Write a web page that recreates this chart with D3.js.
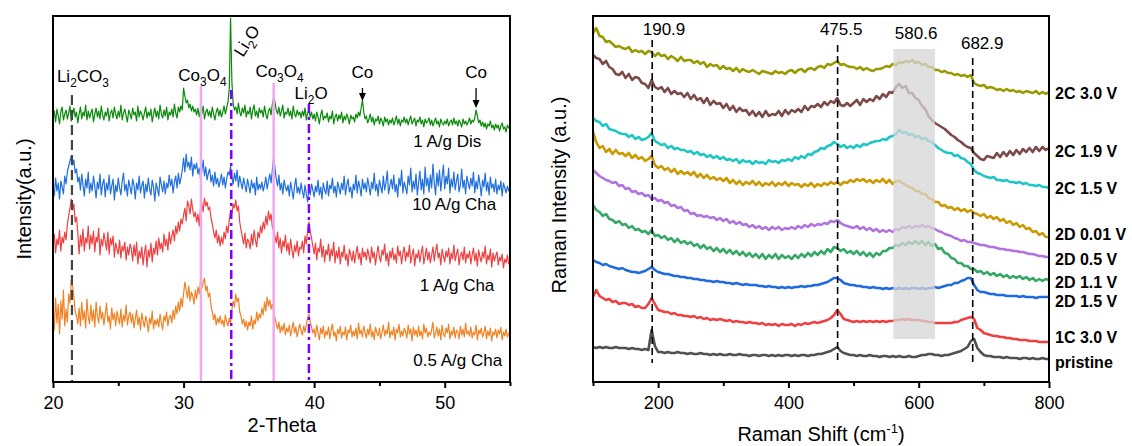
<!DOCTYPE html>
<html>
<head>
<meta charset="utf-8">
<script src="https://cdn.jsdelivr.net/npm/d3@7"></script>
<style>
body { margin: 0; background: #fff; }
text { font-family: Arial, "Liberation Sans", sans-serif; fill: #000; }
</style>
</head>
<body>
<svg id="chart" width="1132" height="446"></svg>
<script>
// ---------- XRD data (left), 2-theta grid 20..55 step 0.1 ----------
var thetaStart = 20, thetaStep = 0.1;
var xrdLabels = ["1 A/g Dis", "10 A/g Cha", "1 A/g Cha", "0.5 A/g Cha"];
var xrdDis1 = [
  264,271,260,273,266,258,270,275,262,268, 272,263,269,276,261,267,274,265,270,259,
  268,275,263,270,266,277,262,271,264,269, 273,260,268,274,265,271,263,276,267,262,
  270,266,274,261,269,272,264,275,268,263, 271,265,277,262,269,273,266,260,272,268,
  263,274,267,270,261,276,265,271,268,262, 269,275,264,270,266,273,260,268,274,265,
  271,263,277,268,264,272,266,275,262,270, 267,273,265,278,269,264,275,270,276,272,
  294,286,279,282,274,278,271,276,270,273, 267,274,265,272,268,276,263,270,273,266,
  271,264,275,268,262,270,274,266,272,265, 270,276,268,274,280,293,364,300,278,272,
  275,268,279,270,266,274,269,277,265,271, 268,275,263,272,277,266,271,264,274,269,
  272,265,276,268,263,271,274,267,278,285, 280,272,268,275,266,271,277,264,270,268,
  274,266,271,263,276,268,265,272,267,270, 264,271,266,274,262,269,272,265,270,263,
  268,261,270,265,258,267,272,262,266,264, 269,260,266,263,271,258,265,268,261,267,
  263,270,259,266,262,268,264,258,267,263, 265,260,268,264,270,266,274,282,270,263,
  266,259,263,268,260,265,257,263,261,266, 258,264,261,256,265,260,263,257,262,259,
  264,257,261,266,258,263,256,262,260,265, 259,263,257,262,266,258,261,264,256,262,
  260,265,258,262,255,263,259,261,264,257, 262,256,260,264,258,261,255,263,259,257,
  261,258,263,256,260,262,257,264,258,261, 256,262,259,255,263,258,261,257,260,264,
  258,262,260,264,272,266,259,262,256,260, 255,259,253,258,256,261,254,257,252,258,
  254,257,251,256,259,253,255,250,257,254, 256];
var xrdCha10 = [
  193,186,204,191,199,183,201,195,188,206, 198,210,216,221,226,217,222,209,213,200,
  205,192,208,197,186,203,194,210,189,199, 191,206,196,184,200,193,208,187,198,203,
  185,199,192,207,188,196,203,182,197,190, 204,194,187,201,209,191,198,186,202,195,
  188,203,197,183,199,192,206,189,196,201, 184,198,190,204,193,187,202,195,181,199,
  193,186,205,197,190,201,188,199,194,207, 196,203,189,200,206,194,209,198,204,212,
  224,210,228,215,220,212,225,206,218,213, 219,208,214,203,211,222,206,215,202,209,
  213,200,207,196,210,198,204,195,201,208, 197,205,194,203,210,207,216,204,198,209,
  201,212,195,206,199,193,204,197,190,203, 196,189,202,194,199,187,205,192,198,193,
  200,191,197,205,193,201,208,199,212,225, 214,203,196,207,192,199,188,202,195,191,
  197,186,200,192,183,196,204,189,195,188, 199,191,184,197,188,180,194,187,198,192,
  185,196,190,202,187,195,183,199,192,188, 201,186,197,193,204,189,196,185,200,194,
  188,199,192,206,187,197,203,190,195,184, 198,192,207,189,201,195,186,203,193,199,
  190,204,196,187,200,193,209,191,198,186, 202,195,189,206,192,199,211,188,196,203,
  193,207,190,198,185,204,196,212,189,200, 195,188,206,197,214,190,201,193,208,187,
  199,211,192,203,188,215,196,204,190,207, 194,218,199,187,209,196,212,191,205,217,
  193,206,198,214,189,203,195,210,192,201, 208,190,197,213,194,202,188,206,199,193,
  204,196,210,189,201,193,207,198,186,202, 195,209,191,200,187,205,194,198,190,203,
  188,197,192,201,186,199,194,189,196,191, 194];
var xrdCha1 = [
  134,148,129,143,137,152,131,145,139,150, 142,158,166,174,183,172,178,160,165,149,
  128,147,136,153,131,144,139,156,133,147, 138,151,130,145,140,154,127,143,136,149,
  141,132,150,128,144,137,146,125,139,133, 128,142,124,136,131,140,122,135,127,138,
  133,121,137,126,140,118,131,124,135,117, 129,137,115,132,125,139,120,134,128,141,
  127,144,133,139,130,148,136,143,132,150, 138,146,152,141,156,148,160,151,163,158,
  167,174,161,181,176,168,183,172,165,170, 160,168,156,174,179,170,184,176,180,172,
  175,164,158,150,144,152,139,147,136,145, 138,150,143,156,149,162,172,168,178,174,
  182,171,176,160,152,145,138,149,134,143, 140,133,148,137,152,142,135,150,144,156,
  149,160,153,166,157,171,162,168,155,151, 146,139,150,134,144,129,141,135,147,131,
  139,127,143,132,124,137,130,141,126,135, 133,141,129,146,138,152,160,150,144,136,
  128,139,122,134,130,143,125,136,120,132, 127,138,121,133,126,140,119,131,124,135,
  118,130,125,137,122,128,116,133,127,121, 131,119,128,136,123,129,117,134,125,130,
  122,133,126,119,135,124,130,117,128,136, 125,120,132,127,138,121,129,116,131,124,
  134,122,128,119,136,126,131,118,129,135, 121,130,125,137,119,127,133,116,128,124,
  132,120,129,136,118,126,134,122,130,119, 127,135,121,131,138,124,129,117,133,126,
  120,131,125,134,118,129,123,137,121,128, 133,117,126,130,122,135,119,128,124,131,
  118,127,134,121,129,116,132,125,120,130, 124,136,118,127,122,133,115,129,121,126,
  130,117,125,121,128,114,123,119,127,118, 122];
var xrdCha05 = [
  70,52,84,59,78,48,81,63,92,56, 73,60,88,79,102,96,85,70,66,58,
  74,56,80,62,71,54,83,65,58,77, 61,72,55,80,66,59,76,63,70,57,
  68,79,60,66,53,74,62,69,56,71, 64,58,73,55,67,61,77,57,66,70,
  59,68,54,63,72,57,65,52,69,61, 55,66,60,50,64,58,71,53,62,57,
  63,55,68,59,52,66,61,70,56,64, 67,59,72,63,76,68,80,71,84,75,
  88,100,92,84,96,81,90,86,78,92, 83,95,88,102,94,99,104,91,96,85,
  89,76,70,62,68,57,64,59,66,58, 62,55,67,60,56,64,58,72,81,75,
  88,80,84,70,66,58,63,55,61,52, 60,56,66,53,62,58,70,61,68,64,
  74,67,80,71,85,76,82,73,78,70, 64,58,53,60,49,56,51,59,47,54,
  50,57,46,53,60,49,55,45,52,58, 51,47,56,50,58,63,68,60,55,49,
  53,45,57,49,42,54,48,56,44,51, 47,55,43,52,58,46,50,41,53,48,
  56,44,50,47,55,42,52,49,57,45, 51,46,54,43,59,48,52,45,56,50,
  44,53,47,58,45,51,42,55,49,46, 54,43,50,57,46,52,48,60,44,51,
  47,55,42,53,49,58,45,51,46,54, 50,44,57,48,53,41,55,47,52,45,
  56,46,51,43,58,49,54,45,50,47, 52,60,44,49,55,46,53,42,57,48,
  45,54,49,58,43,51,47,55,44,52, 50,43,56,47,53,45,59,48,51,46,
  55,44,50,47,57,42,52,48,54,45, 49,56,43,51,46,54,41,50,47,53,
  44,52,48,55,42,50,46,53,45,49, 47];
var xrdSeries = [xrdDis1, xrdCha10, xrdCha1, xrdCha05];
var xrdColors = ["#0a8a0a", "#1f6fdc", "#ee4040", "#f08224"];
// label anchor: [theta of right end, intensity]
var xrdLabelAt = [[52.8, 235], [53.95, 172], [53.8, 91], [54.4, 16]];

// reference phase lines (2-theta, top intensity)
var li2co3Line = [[21.45, 287]];
var co3o4Lines = [[31.33, 296], [36.9, 299]];
var li2oLines = [[33.65, 292], [39.6, 278]];
var coArrows = [[43.7, 294, 281], [52.4, 294, 274]];

// ---------- Raman data (right), shift grid 100..800 step 5 ----------
var shiftStart = 100, shiftStep = 5;
var ramanLabels = ["2C 3.0 V", "2C 1.9 V", "2C 1.5 V", "2D 0.01 V", "2D 0.5 V",
  "2D 1.1 V", "2D 1.5 V", "1C 3.0 V", "pristine"];
var raman2C30 = [349,354,346,345,340,341,338,335,336,334, 333,335,330,332,330,331,328,331,330,326,
  329,326,327,323,326,324,321,325,321,322, 322,319,321,318,320,315,318,316,317,313,
  316,313,314,311,314,310,313,311,310,312, 310,308,311,310,309,308,311,309,310,308,
  311,312,309,312,313,310,313,314,312,315, 316,314,318,317,319,321,317,318,316,315,
  315,313,315,312,314,312,311,313,313,314, 316,315,318,317,320,319,321,320,322,319,
  320,317,318,315,315,312,312,310,311,309, 309,307,308,306,307,305,307,299,297,296,
  297,294,295,294,292,293,291,293,291,292, 290,291,289,291,290,289,291,288,290,288, 290];
var raman2C19 = [327,324,323,318,321,315,313,308,307,310, 304,308,302,305,304,299,298,294,302,295,
  293,295,290,294,288,291,288,289,285,289, 283,287,282,284,279,284,277,281,278,279,
  274,278,272,276,270,274,271,272,267,271, 266,270,265,271,266,268,267,271,266,272,
  268,272,270,273,270,276,272,276,275,278, 275,280,277,281,279,284,277,276,279,276,
  279,282,277,283,280,283,281,286,283,288, 285,290,289,295,298,294,296,289,289,284,
  282,276,273,266,262,259,257,255,253,250, 247,245,242,240,237,235,234,229,226,223,
  222,226,225,224,229,225,230,226,231,227, 232,228,233,230,234,230,235,231,235,232, 234];
var raman2C15 = [264,261,260,256,258,253,252,251,249,248, 248,245,247,243,245,242,243,245,249,241,
  239,237,238,234,236,233,234,232,232,230, 231,228,230,227,228,225,227,224,226,223,
  225,222,223,221,223,219,222,220,221,218, 221,219,220,218,222,220,221,219,222,221,
  223,221,225,223,226,224,228,227,230,231, 234,233,236,237,240,238,235,237,234,236,
  234,237,235,238,237,239,240,241,241,243, 242,245,246,248,252,249,250,247,248,245,
  246,243,244,241,240,237,234,232,230,229, 229,226,227,224,223,220,218,212,209,208,
  206,205,204,205,202,202,201,202,200,200, 199,200,198,199,197,197,196,197,195,195, 194];
var raman2D001 = [250,240,234,236,230,233,228,232,228,229, 226,229,224,227,223,225,221,223,226,217,
  214,216,212,214,210,213,208,211,208,210, 207,210,205,208,204,207,203,205,202,204,
  201,204,199,202,198,201,197,200,198,201, 197,200,196,199,197,200,196,199,197,200,
  196,199,197,198,195,198,196,199,195,198, 196,199,197,200,198,200,197,200,199,202,
  200,203,201,203,200,202,199,202,200,203, 199,202,198,201,201,199,197,195,194,191,
  191,188,188,184,183,180,180,176,177,174, 175,172,174,171,173,170,172,169,168,166,
  168,164,166,163,165,161,163,159,161,157, 159,155,157,153,154,150,151,147,149,145, 145];
var raman2D05 = [212,209,206,204,202,201,199,200,196,197, 193,194,190,191,188,189,186,187,183,184,
  181,182,179,180,176,177,174,175,171,172, 168,169,166,167,165,166,164,165,162,164,
  161,163,159,161,158,160,157,158,155,157, 154,156,153,155,152,155,153,155,152,154,
  153,155,153,156,154,157,155,158,156,158, 157,159,158,161,160,162,159,157,156,155,
  154,156,153,155,152,154,151,153,150,152, 150,152,150,153,152,155,154,156,154,156,
  155,157,155,156,154,153,151,150,148,147, 146,144,143,141,142,140,140,139,138,137,
  137,136,135,135,134,133,133,132,132,131, 131,130,130,129,128,128,127,126,126,125, 125];
var raman2D11 = [177,172,170,166,168,163,162,159,161,157, 158,154,156,152,153,150,151,148,152,146,
  147,144,146,142,144,140,143,139,141,138, 140,136,138,134,137,133,135,131,134,130,
  133,129,132,128,131,127,130,126,129,125, 128,124,128,123,127,124,128,123,127,124,
  126,123,127,124,128,125,129,126,130,127, 131,128,133,130,135,134,131,133,129,131,
  128,131,127,130,126,129,125,129,127,131, 131,134,134,137,136,139,137,140,138,141,
  138,141,137,140,136,138,133,134,129,128, 124,123,119,119,116,116,113,113,110,111,
  108,110,107,109,106,108,105,107,104,106, 104,106,103,105,102,104,101,103,101,103, 102];
var raman2D15 = [122,120,119,117,118,116,115,114,113,114, 112,111,110,110,109,110,111,113,115,112,
  110,109,108,108,107,106,106,105,105,104, 104,103,103,102,102,101,101,100,101,100,
  100,99,99,98,99,98,97,98,97,97, 97,96,96,95,96,95,95,94,95,94,
  95,94,95,95,96,95,96,96,97,97, 98,99,100,102,104,104,102,99,98,97,
  97,96,96,95,95,94,95,94,94,93, 94,93,94,93,94,93,94,93,94,94,
  93,94,93,94,94,95,94,95,96,97, 97,99,99,101,102,104,104,97,92,90,
  90,89,88,88,87,87,87,86,86,86, 86,85,86,85,85,85,84,85,85,85, 85];
var raman1C30 = [85,92,86,84,82,83,80,81,78,79, 79,77,78,75,76,74,74,78,84,78,
  72,71,70,70,68,69,67,67,66,66, 65,66,64,65,63,64,62,63,62,63,
  62,61,62,60,61,60,60,59,60,59, 59,58,59,57,58,57,58,56,58,57,
  57,58,56,58,57,59,58,59,60,59, 60,61,62,64,67,72,68,63,62,61,
  60,61,60,61,60,61,60,61,60,61, 60,61,61,62,62,63,62,63,62,62,
  62,61,61,60,60,59,59,59,59,59, 59,60,60,62,63,64,65,63,54,52,
  49,48,47,46,46,45,45,44,44,43, 43,42,42,42,41,41,41,40,40,40, 40];
var ramanPristine = [35,34,35,34,35,34,34,35,34,34, 34,33,34,33,33,32,33,32,52,36,
  30,30,29,30,29,29,30,29,29,28, 29,28,28,29,28,28,27,28,27,28,
  27,27,28,27,27,28,27,27,26,27, 27,26,27,27,26,27,26,27,26,27,
  27,26,27,26,27,27,26,27,27,28, 28,29,30,31,33,35,31,29,28,27,
  27,26,27,26,26,27,26,26,25,26, 26,25,26,25,26,25,25,26,25,25,
  26,27,27,28,28,27,27,26,27,27, 28,29,30,31,33,35,41,43,34,30,
  27,26,26,25,25,25,24,25,24,24, 24,23,24,24,23,24,23,23,24,23, 23];
var ramanSeries = [raman2C30, raman2C19, raman2C15, raman2D001, raman2D05,
  raman2D11, raman2D15, raman1C30, ramanPristine];
var ramanColors = ["#999900", "#7b4a48", "#1cc6c6", "#cc9900", "#b072e0",
  "#35a866", "#1f6adc", "#ee4040", "#505050"];
var ramanLabelAt = [283, 225, 188, 142, 117, 94, 75, 39, 14];
var ramanPeaks = [[190.9, 342], [475.5, 337], [682.9, 324]];
var peakLabels = [["190.9", 209, 347], ["475.5", 481, 347], ["580.6", 596, 343], ["682.9", 697.5, 333]];
var ramanBand = [561, 625, 43, 333];

// ---------- drawing ----------
var svg = d3.select("#chart");
var plotTop = 16, plotBottom = 382;

var xL = d3.scaleLinear().domain([20, 55]).range([53, 510]);
var yL = d3.scaleLinear().domain([0, 366]).range([plotBottom, plotTop]);
var xR = d3.scaleLinear().domain([100, 800]).range([593, 1049]);
var yR = yL;

function drawAxes(x, major, minor) {
  var g = svg.append("g").attr("transform", "translate(0," + plotBottom + ")");
  g.call(d3.axisBottom(x).tickValues(major).tickSize(6).tickPadding(8).tickFormat(d3.format("d")));
  g.append("g").call(d3.axisBottom(x).tickValues(minor).tickSize(4).tickFormat(""));
  g.selectAll(".domain").remove();
  g.selectAll("line").attr("stroke", "#000").attr("stroke-width", 2);
  g.selectAll("text").attr("font-size", 18).attr("fill", "#000")
    .style("font-family", "Arial, 'Liberation Sans', sans-serif");
  var r = x.range();
  svg.append("rect")
    .attr("x", r[0]).attr("y", plotTop)
    .attr("width", r[1] - r[0]).attr("height", plotBottom - plotTop)
    .attr("fill", "none").attr("stroke", "#000").attr("stroke-width", 2);
}

// subscripted chemical label, e.g. "Li|2|CO|3"
function chem(sel, parts) {
  parts.forEach(function (p, i) {
    var t = sel.append("tspan").text(p);
    if (i % 2 == 1) t.attr("font-size", "0.7em").attr("dy", 5);
    else if (i > 0) t.attr("dy", -5);
  });
  return sel;
}

// left panel: spectra
var xrdLine = d3.line()
  .x(function (d, i) { return xL(thetaStart + i * thetaStep); })
  .y(function (d) { return yL(d); });

xrdSeries.forEach(function (s, k) {
  svg.append("path").datum(s)
    .attr("d", xrdLine)
    .attr("fill", "none")
    .attr("stroke", xrdColors[k])
    .attr("stroke-width", 1.2)
    .attr("stroke-linejoin", "round");
});

// phase reference lines
li2co3Line.forEach(function (d) {
  svg.append("line")
    .attr("x1", xL(d[0])).attr("x2", xL(d[0]))
    .attr("y1", yL(d[1])).attr("y2", yL(0))
    .attr("stroke", "#444").attr("stroke-width", 2.2).attr("stroke-dasharray", "10,5");
});
co3o4Lines.forEach(function (d) {
  svg.append("line")
    .attr("x1", xL(d[0])).attr("x2", xL(d[0]))
    .attr("y1", yL(d[1])).attr("y2", yL(0))
    .attr("stroke", "#f0a8f0").attr("stroke-width", 2.5);
});
li2oLines.forEach(function (d) {
  svg.append("line")
    .attr("x1", xL(d[0])).attr("x2", xL(d[0]))
    .attr("y1", yL(d[1])).attr("y2", yL(0))
    .attr("stroke", "#7f00ff").attr("stroke-width", 2.5).attr("stroke-dasharray", "9,4,3,4");
});
coArrows.forEach(function (d) {
  var x = xL(d[0]);
  svg.append("line")
    .attr("x1", x).attr("x2", x).attr("y1", yL(d[1])).attr("y2", yL(d[2]) - 6)
    .attr("stroke", "#000").attr("stroke-width", 1.3);
  svg.append("path")
    .attr("d", "M" + (x - 3.5) + "," + (yL(d[2]) - 8) + "L" + (x + 3.5) + "," + (yL(d[2]) - 8) + "L" + x + "," + yL(d[2]) + "Z")
    .attr("fill", "#000");
  svg.append("text").attr("x", x).attr("y", yL(d[1]) - 10)
    .attr("text-anchor", "middle").attr("font-size", 17).text("Co");
});

chem(svg.append("text").attr("x", xL(20.3)).attr("y", 82).attr("font-size", 17), ["Li", "2", "CO", "3"]);
chem(svg.append("text").attr("x", xL(29.6)).attr("y", 81).attr("font-size", 17), ["Co", "3", "O", "4"]);
chem(svg.append("text").attr("x", xL(35.5)).attr("y", 77).attr("font-size", 17), ["Co", "3", "O", "4"]);
chem(svg.append("text").attr("x", xL(38.5)).attr("y", 99).attr("font-size", 17), ["Li", "2", "O"]);
chem(svg.append("text").attr("font-size", 17)
  .attr("transform", "translate(" + xL(34.55) + ",58) rotate(-58)"), ["Li", "2", "O"]);

xrdLabels.forEach(function (t, k) {
  svg.append("text")
    .attr("x", xL(xrdLabelAt[k][0])).attr("y", yL(xrdLabelAt[k][1]))
    .attr("text-anchor", "end").attr("font-size", 17).text(t);
});

drawAxes(xL, [20, 30, 40, 50], [25, 35, 45, 55]);

svg.append("text").attr("x", 282).attr("y", 432)
  .attr("text-anchor", "middle").attr("font-size", 20).text("2-Theta");
svg.append("text").attr("transform", "translate(31,199) rotate(-90)")
  .attr("text-anchor", "middle").attr("font-size", 20).text("Intensity(a.u.)");

// right panel: Raman spectra
var ramanLine = d3.line()
  .x(function (d, i) { return xR(shiftStart + i * shiftStep); })
  .y(function (d) { return yR(d); });

ramanSeries.forEach(function (s, k) {
  svg.append("path").datum(s)
    .attr("d", ramanLine)
    .attr("fill", "none")
    .attr("stroke", ramanColors[k])
    .attr("stroke-width", 2.6)
    .attr("stroke-linejoin", "round");
});

svg.append("rect")
  .attr("x", xR(ramanBand[0])).attr("y", yR(ramanBand[3]))
  .attr("width", xR(ramanBand[1]) - xR(ramanBand[0]))
  .attr("height", yR(ramanBand[2]) - yR(ramanBand[3]))
  .attr("fill", "#d6d6d6").attr("opacity", 0.75);

ramanPeaks.forEach(function (d) {
  svg.append("line")
    .attr("x1", xR(d[0])).attr("x2", xR(d[0]))
    .attr("y1", yR(d[1])).attr("y2", yR(19))
    .attr("stroke", "#000").attr("stroke-width", 1.6).attr("stroke-dasharray", "7,4");
});
peakLabels.forEach(function (d) {
  svg.append("text").attr("x", xR(d[1])).attr("y", yR(d[2]))
    .attr("text-anchor", "middle").attr("font-size", 17).text(d[0]);
});

ramanLabels.forEach(function (t, k) {
  svg.append("text")
    .attr("x", xR(800) + 6).attr("y", yR(ramanLabelAt[k]))
    .attr("font-size", 16).attr("font-weight", "bold").text(t);
});

drawAxes(xR, [200, 400, 600, 800], [100, 300, 500, 700]);

var xt = svg.append("text").attr("x", 821).attr("y", 441)
  .attr("text-anchor", "middle").attr("font-size", 20);
xt.append("tspan").text("Raman Shift (cm");
xt.append("tspan").attr("font-size", 13).attr("dy", -8).text("-1");
xt.append("tspan").attr("dy", 8).text(")");
svg.append("text").attr("transform", "translate(566,195) rotate(-90)")
  .attr("text-anchor", "middle").attr("font-size", 20).text("Raman Intensity (a.u.)");
</script>
</body>
</html>
